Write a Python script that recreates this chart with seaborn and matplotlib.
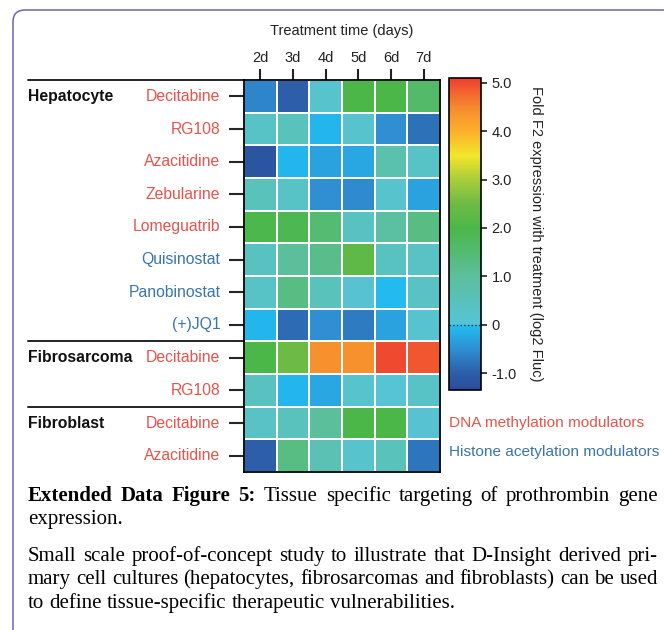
import numpy as np
import pandas as pd
import matplotlib
matplotlib.use("Agg")
import matplotlib.pyplot as plt
import matplotlib.patches as mpatches
import matplotlib.transforms as mtransforms
from matplotlib.colors import LinearSegmentedColormap
import seaborn as sns

# -----------------------------
# Data
# -----------------------------
days = ["2d", "3d", "4d", "5d", "6d", "7d"]
drugs = ["Decitabine", "RG108", "Azacitidine", "Zebularine", "Lomeguatrib",
         "Quisinostat", "Panobinostat", "(+)JQ1",
         "Decitabine", "RG108",
         "Decitabine", "Azacitidine"]
drug_class = ["dna", "dna", "dna", "dna", "dna", "hist", "hist", "hist",
              "dna", "dna", "dna", "dna"]
groups = ["Hepatocyte", "Fibrosarcoma", "Fibroblast"]
group_start = [0, 8, 10]

fold_change = [
    [-0.6, -1.0, 0.2, 2.0, 2.0, 1.6],
    [0.3, 0.5, -0.1, 0.2, -0.5, -0.8],
    [-1.2, -0.1, -0.3, -0.25, 0.7, 0.3],
    [0.5, 0.3, -0.5, -0.55, 0.2, -0.3],
    [1.95, 1.9, 1.5, 0.4, 0.9, 1.3],
    [0.4, 1.0, 1.2, 2.3, 0.4, 0.35],
    [0.3, 1.3, 0.5, 0.1, -0.05, 0.35],
    [-0.1, -0.85, -0.5, -0.7, -0.3, 0.15],
    [2.0, 2.5, 4.4, 4.4, 5.0, 4.9],
    [0.4, -0.1, -0.25, 0.2, 0.05, 0.3],
    [0.35, 0.45, 1.0, 2.0, 2.0, 0.1],
    [-1.0, 1.3, 0.6, 0.2, 0.5, -0.75],
]

cbar_ticks = [-1, 0, 1, 2, 3, 4, 5]
cbar_ticklabels = ["-1.0", "0", "1.0", "2.0", "3.0", "4.0", "5.0"]

RED = "#e8534b"
BLUE = "#3b74ae"
class_color = {"dna": RED, "hist": BLUE}

# -----------------------------
# Colour map (break at 0)
# -----------------------------
vmin, vmax = -1.35, 5.1
anchors = [(-1.35, "#2a4d9c"), (-1.0, "#2c5ea9"), (-0.5, "#2f8fd2"),
           (0.0, "#20c0f2"), (0.0, "#56c4d8"), (1.0, "#5cbf9c"),
           (2.0, "#4bb748"), (2.5, "#6dbb45"), (3.0, "#a9cd3a"),
           (3.5, "#f2e62a"), (4.0, "#fbb02b"), (4.5, "#f68a2e"),
           (5.1, "#ee3f2f")]
cmap = LinearSegmentedColormap.from_list(
    "fold", [((v - vmin) / (vmax - vmin), c) for v, c in anchors], N=512)

df = pd.DataFrame(fold_change, columns=days)

# -----------------------------
# Figure
# -----------------------------
sns.set_style("white")
plt.rcParams["font.family"] = ["Liberation Sans", "DejaVu Sans"]

W, H = 664, 630
fig = plt.figure(figsize=(W / 100, H / 100), dpi=100)

def fx(px):
    return px / W

def fy(py):
    return 1 - py / H

ax = fig.add_axes([fx(244), fy(472), fx(440) - fx(244), fy(80) - fy(472)])
cax = fig.add_axes([fx(449), fy(390), fx(481) - fx(449), fy(78) - fy(390)])

sns.heatmap(df, ax=ax, cbar_ax=cax, cmap=cmap, vmin=vmin, vmax=vmax,
            linewidths=1.3, linecolor="white", square=False,
            cbar_kws={"ticks": cbar_ticks})

for sp in ax.spines.values():
    sp.set_visible(True)
    sp.set_color("black")
    sp.set_linewidth(1.3)

ax.xaxis.tick_top()
ax.xaxis.set_label_position("top")
ax.set_xticks(np.arange(len(days)) + 0.5)
ax.set_xticklabels(days, fontsize=10.5, color="#222222")
ax.set_xlabel("Treatment time (days)", fontsize=10.5, color="#222222", labelpad=11)
ax.tick_params(axis="x", top=True, bottom=False, length=8, width=1.5,
               direction="out", pad=3, colors="#222222")
ax.set_yticks(np.arange(len(drugs)) + 0.5)
ax.set_yticklabels(drugs, fontsize=11.3, rotation=0)
ax.tick_params(axis="y", left=True, length=11, width=1.5, direction="out", pad=6)
for lab, cls in zip(ax.get_yticklabels(), drug_class):
    lab.set_color(class_color[cls])
ax.set_ylabel("")

# group separators and labels
blend = mtransforms.blended_transform_factory(fig.transFigure, ax.transData)
for g, start in zip(groups, group_start):
    ax.plot([fx(28), fx(244)], [start, start], color="#222222", lw=1.4,
            transform=blend, clip_on=False)
    ax.text(fx(28), start + 0.5, g, transform=blend, fontsize=11.3,
            fontweight="bold", color="#111111", va="center", ha="left")

# colour bar
cbar = ax.collections[0].colorbar
cbar.set_ticks(cbar_ticks)
cbar.set_ticklabels(cbar_ticklabels)
cbar.ax.tick_params(labelsize=10.5, length=4, width=1.2, colors="#222222")
cbar.outline.set_visible(True)
cbar.outline.set_edgecolor("black")
cbar.outline.set_linewidth(1.2)
cbar.ax.axhline(0, color="#333333", lw=1, ls=":")
cbar.set_label("Fold F2 expression with treatment (log2 Fluc)", rotation=270,
               fontsize=10.5, color="#222222", labelpad=19)

# legend text
fig.text(fx(449), fy(423), "DNA methylation modulators", color=RED,
         fontsize=11.1, va="center", ha="left")
fig.text(fx(449), fy(452), "Histone acetylation modulators", color=BLUE,
         fontsize=11.1, va="center", ha="left")

# -----------------------------
# Caption (justified)
# -----------------------------
renderer = fig.canvas.get_renderer()
CAP_SIZE = 15

def caption_line(words, y_px, justify):
    texts = [fig.text(0, fy(y_px), w, fontsize=CAP_SIZE, fontweight=wt,
                      family=["Liberation Serif", "DejaVu Serif"],
                      va="baseline", ha="left", color="black")
             for w, wt in words]
    widths = [t.get_window_extent(renderer).width for t in texts]
    x0, x1 = 28, 658
    if justify and len(words) > 1:
        gap = (x1 - x0 - sum(widths)) / (len(words) - 1)
    else:
        gap = CAP_SIZE * 100 / 72 * 0.25
    x = x0
    for t, w in zip(texts, widths):
        t.set_x(fx(x))
        x += w + gap

def plain(s):
    return [(w, "normal") for w in s.split()]

caption_line([("Extended", "bold"), ("Data", "bold"), ("Figure", "bold"), ("5:", "bold")]
             + plain("Tissue specific targeting of prothrombin gene"), 501, True)
caption_line(plain("expression."), 524, False)
caption_line(plain("Small scale proof-of-concept study to illustrate that D-Insight derived pri-"), 561, True)
caption_line(plain("mary cell cultures (hepatocytes, fibrosarcomas and fibroblasts) can be used"), 584, True)
caption_line(plain("to define tissue-specific therapeutic vulnerabilities."), 608, False)

# rounded frame, open to the right and bottom
frame = mpatches.FancyBboxPatch((13, -60), 720, H - 10 + 60,
                                boxstyle="round,pad=0,rounding_size=12",
                                transform=mtransforms.IdentityTransform(),
                                facecolor="none", edgecolor="#6f66ad", lw=1.1)
fig.patches.append(frame)

fig.savefig("out.png", dpi=100)
